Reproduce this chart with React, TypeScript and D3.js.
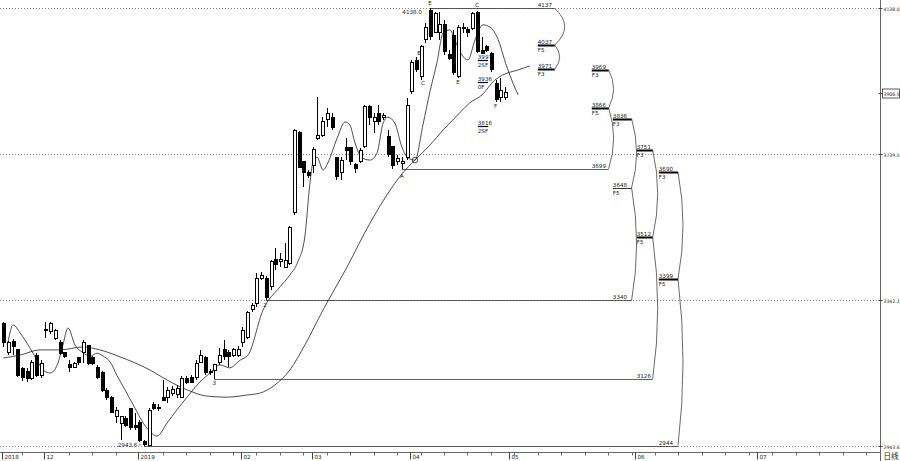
import React from 'react';
import * as d3 from 'd3';

// ---- candle data (index 0 = 2018-11-20 ... index 107 = 2019-04-30) ----
const opens = [3278,3197,3229,3205,3153,3145,3128,3191,3136,3262,3254,3237,3224,3197,3164,3158,3183,3197,3216,3183,3158,3142,3095,3074,3022,3005,3019,3044,3000,3008,2954,2945,3055,3046,3074,3074,3087,3082,3076,3128,3131,3131,3172,3183,3147,3150,3172,3207,3199,3191,3191,3224,3240,3314,3333,3401,3401,3377,3453,3447,3431,3442,3581,3797,3718,3688,3707,3783,3791,3835,3840,3729,3690,3756,3756,3712,3718,3759,3868,3827,3851,3838,3786,3759,3720,3715,3729,3909,3996,3950,4051,4132,4072,4070,4094,4010,4064,3952,4086,4078,4083,4127,4023,4032,4015,3933,3895,3895];
const highs = [3281,3229,3235,3207,3158,3156,3177,3196,3177,3281,3281,3262,3232,3199,3177,3172,3186,3232,3218,3188,3164,3147,3101,3079,3049,3025,3025,3046,3033,3014,2959,3046,3063,3057,3123,3104,3106,3109,3134,3134,3136,3177,3205,3188,3153,3166,3210,3232,3205,3210,3216,3267,3311,3333,3415,3417,3407,3450,3483,3469,3497,3543,3808,3802,3720,3696,3759,3895,3841,3865,3851,3731,3731,3783,3759,3715,3756,3873,3873,3851,3873,3851,3805,3759,3737,3731,3892,3996,4004,4037,4097,4138,4127,4127,4105,4023,4078,4092,4097,4086,4127,4130,4059,4037,4018,3941,3947,3922];
const lows = [3213,3191,3191,3131,3120,3117,3123,3131,3128,3237,3248,3232,3191,3183,3145,3156,3164,3169,3164,3164,3125,3090,3068,3033,3005,2959,2994,2986,2986,2954,2943.6,2945,3041,3038,3065,3060,3079,3074,3074,3112,3115,3123,3169,3136,3136,3126,3164,3177,3158,3186,3186,3213,3235,3308,3322,3396,3340,3368,3423,3431,3428,3437,3573,3701,3649,3674,3688,3778,3786,3813,3805,3669,3669,3723,3709,3688,3715,3756,3819,3797,3819,3832,3731,3700,3709,3699,3723,3903,3963,3941,4042,4051,4070,4051,4010,3996,3955,3947,4070,4059,4078,4015,4015,4018,3963,3881,3881,3887];
const closes = [3224,3224,3213,3136,3131,3128,3172,3136,3169,3259,3276,3259,3194,3186,3156,3169,3172,3226,3169,3169,3131,3095,3074,3035,3041,3022,3000,2992,2994,2959,2948,3041,3046,3049,3068,3095,3098,3101,3128,3117,3117,3169,3191,3142,3142,3164,3191,3186,3186,3205,3207,3259,3306,3327,3401,3409,3349,3445,3439,3453,3450,3538,3805,3704,3688,3682,3753,3791,3827,3849,3813,3677,3723,3750,3718,3699,3750,3868,3838,3838,3827,3846,3737,3709,3726,3718,3873,3990,3969,4032,4086,4059,4124,4092,4018,4001,3961,4086,4083,4070,4122,4018,4015,4023,3969,3887,3914,3906.5];

// ---- moving-average style lines: [index, value] ----
const fastLine: [number, number][] = [[1.0,3226],[2.1,3273],[3.6,3251],[5.7,3210],[7.2,3177],[8.5,3150],[10.0,3142],[11.5,3164],[12.7,3218],[13.8,3265],[15.3,3218],[16.8,3199],[18.5,3188],[20.0,3196],[21.3,3188],[22.8,3172],[24.2,3136],[26.0,3095],[27.7,3055],[30.6,2992],[32.8,2970],[34.9,3005],[37.0,3041],[39.2,3076],[41.9,3117],[44.1,3142],[46.2,3164],[48.3,3156],[50.5,3177],[52.2,3191],[55.4,3314],[59.0,3377],[61.1,3409],[62.8,3445],[64.3,3513],[65.4,3660],[66.0,3715],[66.9,3731],[68.2,3696],[69.2,3715],[71.2,3783],[72.9,3827],[73.9,3819],[75.0,3770],[76.5,3729],[78.2,3723],[79.7,3742],[81.0,3824],[82.0,3840],[83.5,3824],[85.0,3759],[86.3,3729],[87.8,3723],[89.5,3819],[91.0,3910],[92.5,3990],[93.8,4070],[95.3,4078],[96.3,4051],[97.8,4010],[99.1,3996],[100.6,4051],[102.3,4092],[103.8,4086],[105.3,4059],[107.4,3977],[108.7,3933],[109.8,3901]];
const slowLine: [number, number][] = [[0,3183],[3.6,3191],[7.8,3205],[12.1,3205],[17.0,3213],[20.6,3205],[24.9,3186],[31.3,3150],[34.9,3123],[39.2,3096],[43.4,3079],[47.7,3076],[52.0,3082],[54.7,3087],[57.9,3109],[61.1,3150],[64.3,3218],[68.2,3314],[73.3,3431],[78.2,3551],[82.5,3641],[85.2,3688],[87.8,3723],[91.0,3764],[93.8,3805],[96.3,3838],[99.5,3879],[102.1,3901],[104.8,3941],[107.0,3958],[109.8,3969],[112.3,3980]];

// ---- axes ----
const xTickIdx = [0, 9, 29, 51, 66, 87, 108, 135, 161];
const xTickLabels = ['2018', '12', '2019', '02', '03', '04', '05', '06', '07'];
const yTickVals = [4138.0, 3906.5, 3739.5, 3342.2, 2943.6];
const yTickLabels = ['4138.0', '3906.5', '3739.5', '3342.2', '2943.6'];
const gridVals = [4138.0, 3739.5, 3342.2, 2943.6];
const lastPrice = 3906.5;

// ---- projection brackets (anchor -> F5 -> F3) ----
const bracketAnchorIdx = [91, 85, 56, 45, 30];
const bracketAnchor = [4137, 3699, 3340, 3126, 2944];
const bracketF5 = [4037, 3866, 3648, 3512, 3399];
const bracketF3 = [3971, 3969, 3836, 3751, 3690];

// ---- small level tags near the last candles ----
const miniLevels = [3997, 3936, 3816];
const miniTop = ['3997', '3936', '3816'];
const miniBottom = ['2SF', '0F', '2SF'];

// ---- letter marks on the chart ----
const markIdx = [91, 87.2, 88.7, 89.5, 97, 101, 105, 85, 55.8, 45];
const markVal = [4151, 4127, 4015, 3933, 3936, 4146, 3870, 3679, 3327, 3115];
const markText = ['E', '4138.0', 'B', 'C', 'E', 'C', 'F', 'A', '2', '3'];

const lowLabelIdx = 28.6;
const lowLabelVal = 2946;
const crossIdx = 87.8;
const crossVal = 3723;

export default function App() {
  const W = 900, H = 461;
  const x = d3.scaleLinear().domain([0, 107]).range([3.3, 505]);
  const y = d3.scaleLinear().domain([2943.6, 4138.0]).range([445.7, 8]);
  const axisX = 880.5;
  const axisY = 452.5;

  const line = d3.line<[number, number]>()
    .x(d => x(d[0]))
    .y(d => y(d[1]))
    .curve(d3.curveMonotoneX);

  const colL = [114.0, 125.5, 130.0, 135.1, 139.8];
  const colR = [117.6, 129.1, 134.0, 138.5, 143.9];
  const bulge = [[10, 5], [5, 5], [5, 5], [5, 5], [5, 5]];

  const minorTicks = d3.range(4, 186, 5).filter(t => !xTickIdx.includes(t));

  const fs = 5.6;
  const txt = '#222';

  return (
    <div style={{ width: W, height: H }}>
      <style>{`html,body{margin:0;padding:0;background:#fff}`}</style>
      <svg width={W} height={H} style={{ display: 'block' }} fontFamily="'DejaVu Sans', sans-serif">
        <rect x={0} y={0} width={W} height={H} fill="#fff" />
        {/* grid */}
        {gridVals.map((v, i) => (
          <line key={'g' + i} x1={0} x2={axisX} y1={Math.round(y(v)) + 0.5} y2={Math.round(y(v)) + 0.5}
            stroke="#888" strokeWidth={1} strokeDasharray="1,2" />
        ))}

        {/* bracket anchors (long thin lines) */}
        {bracketAnchor.map((v, b) => {
          const yy = Math.round(y(v)) + 0.5;
          return (
            <g key={'ba' + b}>
              <line x1={x(bracketAnchorIdx[b])} x2={x(colR[b])} y1={yy} y2={yy} stroke="#333" strokeWidth={0.8} />
              <text x={x(colL[b])} y={yy - 2} fontSize={fs} fill={txt}>{String(v)}</text>
            </g>
          );
        })}

        {/* bracket arcs and F levels */}
        {bracketAnchor.map((v, b) => {
          const xr = x(colR[b]);
          const ya = y(v), y5 = y(bracketF5[b]), y3 = y(bracketF3[b]);
          const p = d3.path();
          p.moveTo(xr, ya);
          p.quadraticCurveTo(xr + 2 * bulge[b][0], (ya + y5) / 2, xr, y5);
          p.quadraticCurveTo(xr + 2 * bulge[b][1], (y5 + y3) / 2, xr, y3);
          return (
            <g key={'br' + b}>
              <path d={p.toString()} fill="none" stroke="#444" strokeWidth={0.8} />
              {[bracketF5[b], bracketF3[b]].map((lv, k) => {
                const yy = Math.round(y(lv)) + 0.5;
                const thin = b === 2 && k === 0;
                return (
                  <g key={k}>
                    <line x1={x(colL[b])} x2={xr} y1={yy} y2={yy} stroke="#000" strokeWidth={thin ? 0.8 : 2} />
                    <text x={x(colL[b])} y={yy - 2} fontSize={fs} fill={txt}>{String(lv)}</text>
                    <text x={x(colL[b])} y={yy + 6.5} fontSize={fs} fill={txt}>{k === 0 ? 'F5' : 'F3'}</text>
                  </g>
                );
              })}
            </g>
          );
        })}

        {/* mini level tags */}
        {miniLevels.map((lv, k) => {
          const yy = Math.round(y(lv)) + 0.5;
          return (
            <g key={'m' + k}>
              <line x1={x(101.2)} x2={x(103.4)} y1={yy} y2={yy} stroke="#000" strokeWidth={1.2} />
              <text x={x(101.2)} y={yy - 1.5} fontSize={fs} fill={txt}>{miniTop[k]}</text>
              <text x={x(101.2)} y={yy + 6} fontSize={fs} fill={txt}>{miniBottom[k]}</text>
            </g>
          );
        })}

        {/* lines */}
        <path d={line(slowLine) || ''} fill="none" stroke="#222" strokeWidth={0.8} />
        <path d={line(fastLine) || ''} fill="none" stroke="#222" strokeWidth={0.8} />
        <circle cx={x(crossIdx)} cy={y(crossVal)} r={2.8} fill="none" stroke="#222" strokeWidth={0.8} />

        {/* candles */}
        <g shapeRendering="crispEdges">
          {opens.map((o, i) => {
            const c = closes[i];
            const cx = Math.round(x(i)) + 0.5;
            const up = c >= o;
            const yt = y(Math.max(o, c));
            const yb = y(Math.min(o, c));
            return (
              <g key={'c' + i}>
                <line x1={cx} x2={cx} y1={y(highs[i])} y2={y(lows[i])} stroke="#000" strokeWidth={1} />
                <rect x={cx - 1.5} y={yt} width={3} height={Math.max(yb - yt, 1)}
                  fill={up ? '#fff' : '#000'} stroke="#000" strokeWidth={1} />
              </g>
            );
          })}
        </g>

        {/* letter marks */}
        {markText.map((t, k) => (
          <text key={'mk' + k} x={x(markIdx[k])} y={y(markVal[k]) + 2} fontSize={fs} fill={txt} textAnchor="middle">{t}</text>
        ))}
        <text x={x(lowLabelIdx)} y={y(lowLabelVal) + 2} fontSize={fs} fill={txt} textAnchor="end">2943.6</text>
        <line x1={x(lowLabelIdx) + 1} x2={x(lowLabelIdx) + 4} y1={y(lowLabelVal)} y2={y(lowLabelVal)} stroke="#333" strokeWidth={0.6} />

        {/* bottom axis */}
        <line x1={0} x2={axisX} y1={axisY} y2={axisY} stroke="#666" strokeWidth={1} />
        {minorTicks.map(t => (
          <line key={'mt' + t} x1={Math.round(x(t)) + 0.5} x2={Math.round(x(t)) + 0.5} y1={axisY} y2={axisY + 3} stroke="#666" strokeWidth={1} />
        ))}
        {xTickIdx.map((t, k) => {
          const xx = Math.round(x(t)) - 0.5;
          return (
            <g key={'xt' + k}>
              <line x1={xx} x2={xx} y1={axisY} y2={axisY + 7} stroke="#444" strokeWidth={1} />
              <text x={xx + 2} y={axisY + 6.5} fontSize={fs} fill={txt}>{xTickLabels[k]}</text>
            </g>
          );
        })}

        {/* right axis */}
        <line x1={axisX} x2={axisX} y1={0} y2={H} stroke="#666" strokeWidth={1} />
        {yTickVals.map((v, k) => {
          const yy = Math.round(y(v)) + 0.5;
          const boxed = v === lastPrice;
          return (
            <g key={'yt' + k}>
              <line x1={axisX - 2} x2={axisX + 2} y1={yy} y2={yy} stroke="#444" strokeWidth={1} />
              {boxed && <rect x={axisX + 2} y={yy - 4.5} width={17} height={9} fill="#fff" stroke="#333" strokeWidth={0.8} />}
              <text x={axisX + 3} y={yy + 2} fontSize={4.6} fill={txt}>{yTickLabels[k]}</text>
            </g>
          );
        })}
        <text x={axisX + 3} y={459} fontSize={7.5} fill={txt} fontFamily="'Noto Sans CJK SC', sans-serif">日线</text>
      </svg>
    </div>
  );
}
